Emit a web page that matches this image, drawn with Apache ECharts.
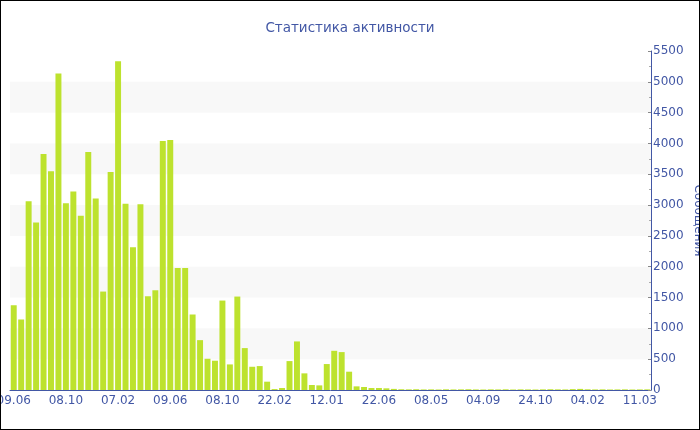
<!DOCTYPE html>
<html>
<head>
<meta charset="utf-8">
<script src="https://cdn.jsdelivr.net/npm/echarts@6/dist/echarts.min.js"></script>
<style>
html,body{margin:0;padding:0;background:#fff;}
#frame{width:700px;height:430px;box-sizing:border-box;border:1px solid #000;overflow:hidden;}
#chart{width:698px;height:428px;}
</style>
</head>
<body>
<div id="frame"><div id="chart"></div></div>
<script>
var tickLabels = ['09.06','08.10','07.02','09.06','08.10','22.02','12.01','22.06','08.05','04.09','24.10','04.02','11.03'];
var messages = [
  1375, 1144, 3063, 2718, 3830, 3549, 5134, 3031, 3220, 2826,
  3862, 3107, 1597, 3538, 5334, 3020, 2314, 3015, 1521, 1618,
  4040, 4056, 1979, 1979, 1225, 809, 507, 475, 1451, 415,
  1516, 680, 377, 388, 135, 15, 32, 469, 788, 270,
  81, 75, 421, 636, 615, 297, 59, 49, 32, 32,
  27, 18, 12, 10, 12, 9, 10, 8, 11, 9,
  10, 12, 9, 8, 10, 9, 11, 8, 10, 9,
  8, 10, 12, 10, 9, 14, 18, 11, 9, 10,
  8, 9, 10, 8, 9, 10
];
var labelStep = 7;
var categories = messages.map(function (v, i) {
  return (i % labelStep === 0) ? tickLabels[i / labelStep] : ('#' + i);
});

var blue = '#4257a5';
var chart = echarts.init(document.getElementById('chart'));
chart.setOption({
  animation: false,
  backgroundColor: '#fff',
  textStyle: { fontFamily: 'DejaVu Sans' },
  title: {
    text: 'Статистика активности',
    left: 'center',
    top: 15,
    textStyle: { color: blue, fontSize: 13.5, fontWeight: 'normal', fontFamily: 'DejaVu Sans' }
  },
  grid: { left: 9, right: 48, top: 50, bottom: 39, containLabel: false, outerBoundsMode: 'none' },
  xAxis: {
    type: 'category',
    data: categories,
    boundaryGap: true,
    axisLine: { lineStyle: { color: blue, width: 1 } },
    axisTick: { alignWithLabel: true, interval: labelStep - 1, length: 3, lineStyle: { color: '#777' } },
    axisLabel: { interval: labelStep - 1, color: blue, fontSize: 12, margin: 5, fontFamily: 'DejaVu Sans' },
    splitLine: { show: false }
  },
  yAxis: {
    type: 'value',
    position: 'right',
    min: 0,
    max: 5500,
    interval: 500,
    name: 'Сообщения',
    nameLocation: 'middle',
    nameRotate: -90,
    nameGap: 41,
    nameMoveOverlap: false,
    nameTextStyle: { color: blue, fontSize: 12, fontFamily: 'DejaVu Sans' },
    axisLine: { show: true, lineStyle: { color: blue, width: 1 } },
    axisTick: { show: true, inside: true, length: 3, lineStyle: { color: '#888' } },
    minorTick: { show: true, splitNumber: 2, length: 2, lineStyle: { color: '#aaa' } },
    axisLabel: {
      color: blue, fontSize: 12, margin: 2, fontFamily: 'DejaVu Sans',
      formatter: function (v) { return String(v); }
    },
    splitLine: { show: false },
    splitArea: { show: true, areaStyle: { color: ['rgba(255,255,255,0)', '#f8f8f8'] } }
  },
  series: [{
    type: 'bar',
    data: messages,
    barCategoryGap: '20%',
    itemStyle: { color: '#bde22e' }
  }]
});
</script>
</body>
</html>
